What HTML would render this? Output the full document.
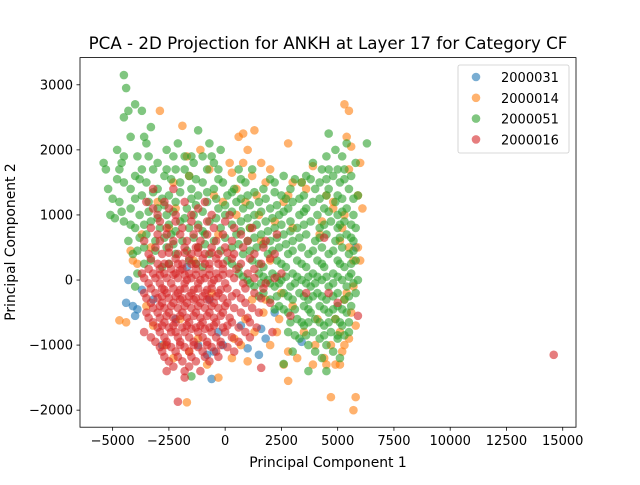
<!DOCTYPE html>
<html><head><meta charset="utf-8"><style>
body{margin:0;background:#fff;font-family:"Liberation Sans","DejaVu Sans",sans-serif}
svg text{font-family:"DejaVu Sans","Liberation Sans",sans-serif}
</style></head><body>
<svg id="chart" width="640" height="480">
<rect width="640" height="480" fill="#fff"/>
<text x="328" y="49" font-size="16.7" text-anchor="middle">PCA - 2D Projection for ANKH at Layer 17 for Category CF</text>
<g id="marks"></g>
<rect x="80" y="57.6" width="496" height="369.6" fill="none" stroke="#000" stroke-width="0.8"/>
<g id="xticks"></g><g id="yticks"></g>
<text x="328" y="467" font-size="13.9" text-anchor="middle">Principal Component 1</text>
<text transform="translate(15,242) rotate(-90)" font-size="13.9" text-anchor="middle">Principal Component 2</text>
<g id="legend"></g>
</svg>
<script>
const categories=["2000031","2000014","2000051","2000016"];
const colors=["#1f77b4","#ff7f0e","#2ca02c","#d62728"];
const xTicks=[-5000,-2500,0,2500,5000,7500,10000,12500,15000];
const yTicks=[-2000,-1000,0,1000,2000,3000];
const blue=[[-4300,0],[-4100,-400],[-4400,-350],[-4000,-550],[-3700,-150],[-3900,-450],[1600,-750],[1800,-900],[1500,-1150],[-500,-1100],[-1200,-1000],[-800,-1150],[1000,-1050],[-2200,-600],[-1700,200],[-700,-300],[-300,-800],[700,-700],[-3200,-300],[-2800,-1000],[2200,-500],[-100,-1000],[-600,-1520],[3400,-950],[5800,500]];
const orange=[[-2900,2600],[-1100,2000],[-1900,2370],[1300,2300],[600,2200],[800,2250],[2800,2100],[5300,2700],[5500,2600],[5400,2200],[5600,2050],[800,1800],[1600,1800],[2000,1700],[-1700,1900],[-700,1700],[300,1650],[1200,1600],[1800,1500],[2800,1300],[3400,1500],[3600,1400],[4500,1300],[4800,1100],[5300,1000],[-3000,1200],[-2300,1500],[500,1400],[900,1200],[1500,1000],[2200,900],[3000,800],[4200,700],[5100,600],[5900,500],[6000,300],[-3700,700],[-4200,450],[-4400,-650],[-4700,-620],[-3900,250],[-3500,-400],[-3200,-700],[1200,-300],[1700,-500],[2300,-800],[2800,-1100],[2800,-1550],[3200,-1200],[3900,-1300],[4500,-1300],[4700,-1800],[5100,-1300],[5800,-1800],[5700,-2000],[5200,-1100],[5500,-900],[5800,-700],[4900,-600],[5300,-300],[5700,-100],[-1700,-1880],[-300,-1500],[-2300,-1200],[-1200,-900],[400,-900],[900,-600],[1000,-1250],[-600,-200],[-1400,300],[-2000,-600],[-300,700],[4000,-1000],[3000,-400],[2500,-200],[6000,1800],[6100,1100],[5900,1300],[4300,900],[3900,1750],[5500,1700],[-4100,300],
[4800,1200],[5200,800],[5500,500],[5700,300],[5400,-200],[5600,-500],[5100,-800],[4700,-1000],[4900,-1300],[5300,-1000],[500,1000],[1100,800],[1600,600],[2000,300],[1800,-300],[2400,-600],[1300,-800],[700,-1000],[-100,1200],[-2500,800],[-3300,500],[-2700,-1000],[-1600,-1100],[-800,-1300],[300,-1200],[3500,-800],[4100,-600],[1400,1300],[2600,1200],[3000,1500],[-500,1300],[200,1800],[1000,2000],[-1600,1600],[-2200,1100],[2000,-1000],[2600,-1300],[4400,-1200]];
const green=[[-4500,3150],[-4400,2950],[-4000,2700],[-4300,2600],[-3700,2600],[-4500,2500],[-3300,2350],[-1200,2300],[4600,2250],[-3600,2200],[-4200,2200],[-3500,2100],[-2100,2100],[-700,2100],[5400,2100],[6300,2100],[-4800,2000],[-2600,2000],[-200,2000],[4900,2000],[-3900,1900],[-1800,1900],[-1000,1900],[5200,1900],[-5400,1800],[-4600,1800],[-3000,1800],[-1400,1800],[-500,1800],[3900,1800],[5800,1800],[-5300,1700],[-3200,1700],[-2200,1700],[-300,1700],[1200,1700],[4300,1700],[5300,1700],[-4000,1600],[-2700,1600],[-1600,1600],[2600,1600],[3600,1600],[4800,1600],[5600,1600],[-4500,1500],[-3500,1500],[-2000,1500],[-1000,1500],[-100,1500],[900,1500],[2200,1500],[3400,1500],[4200,1500],[5100,1500],[-5200,1400],[-4200,1400],[-3000,1400],[-1500,1400],[-500,1400],[400,1400],[1700,1400],[2900,1400],[4000,1400],[4600,1400],[5500,1400],[-3700,1300],[-2500,1300],[-1200,1300],[100,1300],[1000,1300],[2500,1300],[3500,1300],[4500,1300],[5000,1300],[5900,1300],[-4700,1200],[-3400,1200],[-2200,1200],[-800,1200],[500,1200],[1500,1200],[3000,1200],[3900,1200],[4900,1200],[-4200,1100],[-3000,1100],[-1700,1100],[-300,1100],[800,1100],[2000,1100],[2800,1100],[3600,1100],[4400,1100],[5400,1100],[-5100,1000],[-3800,1000],[-2600,1000],[-1400,1000],[0,1000],[1300,1000],[2400,1000],[3300,1000],[4100,1000],[5000,1000],[5700,1000],[-4900,950],[-4500,900],[-3300,900],[-2000,900],[-700,900],[700,900],[1800,900],[2900,900],[3800,900],[4700,900],[5300,900],[-4000,800],[-2900,800],[-1600,800],[-200,800],[1100,800],[2200,800],[3200,800],[4200,800],[5000,800],[5800,800],[-3500,700],[-2400,700],[-900,700],[500,700],[1600,700],[2600,700],[3600,700],[4500,700],[5400,700],[-4300,600],[-3100,600],[-1900,600],[-500,600],[1000,600],[2000,600],[3000,600],[4000,600],[4900,600],[5700,600],[-3600,500],[-2600,500],[-1200,500],[300,500],[1400,500],[2400,500],[3400,500],[4300,500],[5200,500],[-4100,400],[-2200,400],[-700,400],[800,400],[1900,400],[2800,400],[3700,400],[4600,400],[5500,400],[-3300,300],[-1600,300],[100,300],[1200,300],[2300,300],[3200,300],[4100,300],[5000,300],[5800,300],[-2800,200],[-1000,200],[600,200],[1700,200],[2700,200],[3600,200],[4400,200],[5300,200],[-3900,100],[600,100],[1500,100],[2100,100],[3000,100],[3900,100],[4800,100],[5600,100],[1000,0],[1900,0],[2500,0],[3400,0],[4300,0],[5200,0],[5900,0],[-4000,-100],[1300,-100],[2200,-100],[2900,-100],[3800,-100],[4600,-100],[5400,-100],[1700,-200],[2600,-200],[3300,-200],[4100,-200],[5000,-200],[5800,-200],[2000,-300],[3000,-300],[3700,-300],[4500,-300],[5300,-300],[2400,-400],[3500,-400],[4200,-400],[5000,-400],[5600,-400],[2800,-500],[3800,-500],[4600,-500],[5400,-500],[3200,-600],[4000,-600],[4900,-600],[3500,-700],[4400,-700],[5200,-700],[2800,-800],[3900,-800],[4700,-800],[5500,-800],[3300,-900],[4200,-900],[5000,-900],[3700,-1000],[4500,-1000],[3000,-1100],[4000,-1100],[4800,-1100],[4300,-1200],[5100,-1200],[2600,-1290],[3700,-1400],[4500,-1400],[-1500,-1480],
[-4800,1550],[-3800,1550],[-2400,1550],[-1300,1550],[-300,1550],[700,1550],[2000,1550],[3100,1550],[3800,1550],[4500,1550],[5300,1550],
[-5000,1250],[-4000,1250],[-2800,1250],[-1500,1250],[-400,1250],[700,1250],[1800,1250],[2700,1250],[3300,1250],[4200,1250],[5200,1250],[5700,1250],
[-4600,1050],[-3400,1050],[-2300,1050],[-1000,1050],[300,1050],[1600,1050],[2600,1050],[3500,1050],[4600,1050],[5200,1050],
[-4200,850],[-3600,850],[-2500,850],[-1200,850],[300,850],[1400,850],[2500,850],[3500,850],[4400,850],[5100,850],[5600,850],
[-3800,650],[-2700,650],[-1400,650],[0,650],[1300,650],[2300,650],[3300,650],[4200,650],[5100,650],[5600,650],
[-3900,450],[-3100,450],[-1700,450],[-200,450],[1100,450],[2100,450],[3000,450],[3900,450],[4800,450],[5700,450],
[-3600,250],[-2500,250],[-1300,250],[300,250],[1500,250],[2500,250],[3400,250],[4300,250],[5100,250],[5600,250],
[800,50],[1700,50],[2300,50],[2700,50],[3200,50],[3700,50],[4100,50],[4500,50],[5000,50],[5500,50],
[1100,-50],[1600,-50],[2000,-50],[2400,-50],[3100,-50],[3600,-50],[4000,-50],[4800,-50],[5700,-50],
[1500,-250],[2300,-250],[2800,-250],[3500,-250],[3900,-250],[4300,-250],[4800,-250],[5500,-250],
[2200,-450],[2600,-450],[3100,-450],[3700,-450],[4400,-450],[4800,-450],[5200,-450],
[2900,-650],[3400,-650],[3700,-650],[4200,-650],[4600,-650],[5100,-650],[5500,-650],
[3100,-850],[3600,-850],[4400,-850],[5000,-850],[5300,-850],
[-4700,1700],[-3700,1700],[-2600,1700],[-1800,1700],[-800,1700],[600,1700],[4600,1700],[5000,1700],
[-4500,1900],[-3400,1900],[-2300,1900],[-1500,1900],[-600,1900],[4500,1900],
[-3200,1350],[-2000,1350],[-800,1350],[300,1350],[1300,1350],[2200,1350],
[-2700,1150],[-1300,1150],[0,1150],[1100,1150],[2300,1150],
[-3000,950],[-1800,950],[-400,950],[1000,950],[2100,950],
[-2200,750],[-1000,750],[700,750],[1900,750],[2900,750],
[-2300,550],[-900,550],[600,550],[1700,550],[2700,550]];
const red=[[-3200,1400],[-2300,1400],[-3500,1200],[-2700,1200],[-1800,1200],[-900,1200],[-3000,1000],[-2200,1000],[-1500,1000],[-600,1000],[200,1000],[-3300,800],[-2600,800],[-1900,800],[-1200,800],[-500,800],[400,800],[1200,800],[-3600,600],[-2900,600],[-2300,600],[-1700,600],[-1100,600],[-400,600],[300,600],[1000,600],[1800,600],[2300,700],[-3400,400],[-2800,400],[-2100,400],[-1500,400],[-900,400],[-300,400],[400,400],[1300,400],[2200,400],[-3000,250],[-2500,250],[-1900,250],[-1300,250],[-700,250],[-100,250],[700,250],[1600,250],[-3700,100],[-3200,100],[-2700,100],[-2200,100],[-1600,100],[-1000,100],[-400,100],[200,100],[1000,100],[2500,100],[-3400,-50],[-2900,-50],[-2400,-50],[-1800,-50],[-1200,-50],[-600,-50],[0,-50],[800,-50],[1800,-50],[-3600,-200],[-3100,-200],[-2600,-200],[-2100,-200],[-1500,-200],[-900,-200],[-300,-200],[500,-200],[1300,-200],[-3300,-350],[-2800,-350],[-2300,-350],[-1700,-350],[-1100,-350],[-500,-350],[100,-350],[900,-350],[2000,-350],[-3500,-500],[-3000,-500],[-2500,-500],[-1900,-500],[-1300,-500],[-700,-500],[-100,-500],[700,-500],[1500,-500],[-3200,-650],[-2700,-650],[-2200,-650],[-1600,-650],[-1000,-650],[-400,-650],[300,-650],[1100,-650],[-3600,-800],[-2900,-800],[-2400,-800],[-1800,-800],[-1200,-800],[-600,-800],[0,-800],[900,-800],[-3100,-950],[-2600,-950],[-2000,-950],[-1400,-950],[-800,-950],[-200,-950],[600,-950],[-2800,-1100],[-2200,-1100],[-1600,-1100],[-1000,-1100],[-400,-1100],[400,-1100],[-2500,-1250],[-1900,-1250],[-1300,-1250],[-700,-1250],[-2600,-1400],[-1800,-1400],[-1100,-1400],[1600,-1350],[-1800,-1500],[-2100,-1870],[-2000,-300],[-1400,-300],[-800,-300],[-2200,-800],[-1500,-750],[-900,-750],[-1700,0],[-1100,0],[-500,0],[-2000,150],[-1300,500],[14600,-1150],[2900,-550],[5900,-550],[4400,650],[4600,-200],[5000,-350],[3600,-200],[2100,-800],
[-3200,1100],[-2500,1100],[-1200,1100],
[-2900,900],[-2200,900],[-1500,900],[-800,900],[0,900],
[-3000,700],[-2600,700],[-2000,700],[-1400,700],[-800,700],[-100,700],[700,700],
[-3100,500],[-2500,500],[-1800,500],[-1200,500],[-600,500],[0,500],[800,500],[1700,500],
[-3300,330],[-2200,330],[-1600,330],[-1000,330],[-400,330],[300,330],[1100,330],[2000,330],
[-3400,170],[-2900,170],[-2400,170],[-1900,170],[-1300,170],[-700,170],[-100,170],[500,170],[1300,170],
[-3600,30],[-3100,30],[-2600,30],[-2100,30],[-1500,30],[-900,30],[-300,30],[400,30],[1300,30],[2200,30],
[-3300,-130],[-2800,-130],[-2300,-130],[-1800,-130],[-1200,-130],[-600,-130],[100,-130],[900,-130],[1700,-130],
[-3500,-280],[-3000,-280],[-2500,-280],[-1900,-280],[-1300,-280],[-700,-280],[-100,-280],[700,-280],[1600,-280],
[-3200,-430],[-2700,-430],[-2100,-430],[-1500,-430],[-900,-430],[-300,-430],[400,-430],[1200,-430],
[-3400,-580],[-2900,-580],[-2300,-580],[-1700,-580],[-1100,-580],[-500,-580],[200,-580],[1000,-580],
[-3000,-730],[-2500,-730],[-1900,-730],[-1300,-730],[-700,-730],[-100,-730],[600,-730],[1400,-730],
[-3300,-880],[-2700,-880],[-2100,-880],[-1600,-880],[-1000,-880],[-400,-880],[300,-880],[1100,-880],
[-2900,-1030],[-2400,-1030],[-1800,-1030],[-1200,-1030],[-600,-1030],[100,-1030],
[-2700,-1180],[-2100,-1180],[-1500,-1180],[-900,-1180],[-300,-1180],
[-2300,-1330],[-1600,-1330],
[-2500,420],[-1800,420],[-1200,420],[-600,420],[100,420],
[-2900,80],[-2300,80],[-1800,80],[-1300,80],[-700,80],[-100,80],
[-2800,-250],[-2200,-250],[-1600,-250],[-1000,-250],[-400,-250],[300,-250],
[-2900,-400],[-2400,-400],[-1800,-400],[-1200,-400],[-600,-400],[0,-400],
[-2800,-700],[-2300,-700],[-1700,-700],[-1100,-700],[-500,-700],[100,-700],
[-2600,-1000],[-2000,-1000],[-1400,-1000],[-800,-1000],[-200,-1000],
[-2600,-550],[-2000,-550],[-1400,-550],[-800,-550],[-200,-550],
[-2700,-150],[-2000,-150],[-1400,-150],[-800,-150],[-200,-150],
[-2700,250],[-2100,250],[-1500,250],[-900,250],[-300,250]];
const series=[blue,orange,green,red];
const xMin=-6450,xMax=15590,yMin=-2262,yMax=3418;
const L=80,R=576,T=57.6,B=427.2;
function sx(v){return L+(v-xMin)/(xMax-xMin)*(R-L);}
function sy(v){return B-(v-yMin)/(yMax-yMin)*(B-T);}
const NS="http://www.w3.org/2000/svg";
function mk(tag,attrs,parent){const e=document.createElementNS(NS,tag);for(const k in attrs)e.setAttribute(k,attrs[k]);parent.appendChild(e);return e;}
const marks=document.getElementById('marks');
series.forEach((pts,si)=>{
  const g=mk('g',{},marks);
  
  
  pts.forEach(p=>{
    const c=mk('circle',{cx:sx(p[0]),cy:sy(p[1]),r:4.3,fill:colors[si],'fill-opacity':0.6},g);
    
    
  });
});
const xg=document.getElementById('xticks');
xTicks.forEach(t=>{
  const x=sx(t);
  const l=mk('line',{x1:x,x2:x,y1:B,y2:B+3.5,stroke:'#000','stroke-width':0.8},xg);
  
  
  const tx=mk('text',{x:x,y:B+18,'font-size':13,'text-anchor':'middle'},xg);
  tx.textContent=(t<0?'\u2212'+Math.abs(t):t);
  
  
});
const yg=document.getElementById('yticks');
yTicks.forEach(t=>{
  const y=sy(t);
  const l=mk('line',{x1:L-3.5,x2:L,y1:y,y2:y,stroke:'#000','stroke-width':0.8},yg);
  
  
  const tx=mk('text',{x:L-7,y:y+4.5,'font-size':13,'text-anchor':'end'},yg);
  tx.textContent=(t<0?'\u2212'+Math.abs(t):t);
  
  
});
const lg=document.getElementById('legend');
mk('rect',{x:458,y:65,width:111,height:88,rx:2,fill:'#fff','fill-opacity':0.8,stroke:'#ccc','stroke-width':0.8},lg);
categories.forEach((c,i)=>{
  const y=77+i*20.8;
  const ci=mk('circle',{cx:476,cy:y,r:4.3,fill:colors[i],'fill-opacity':0.6},lg);
  
  
  const t=mk('text',{x:501,y:y+5,'font-size':13},lg);
  t.textContent=c;
  
  
});
</script>
</body></html>
